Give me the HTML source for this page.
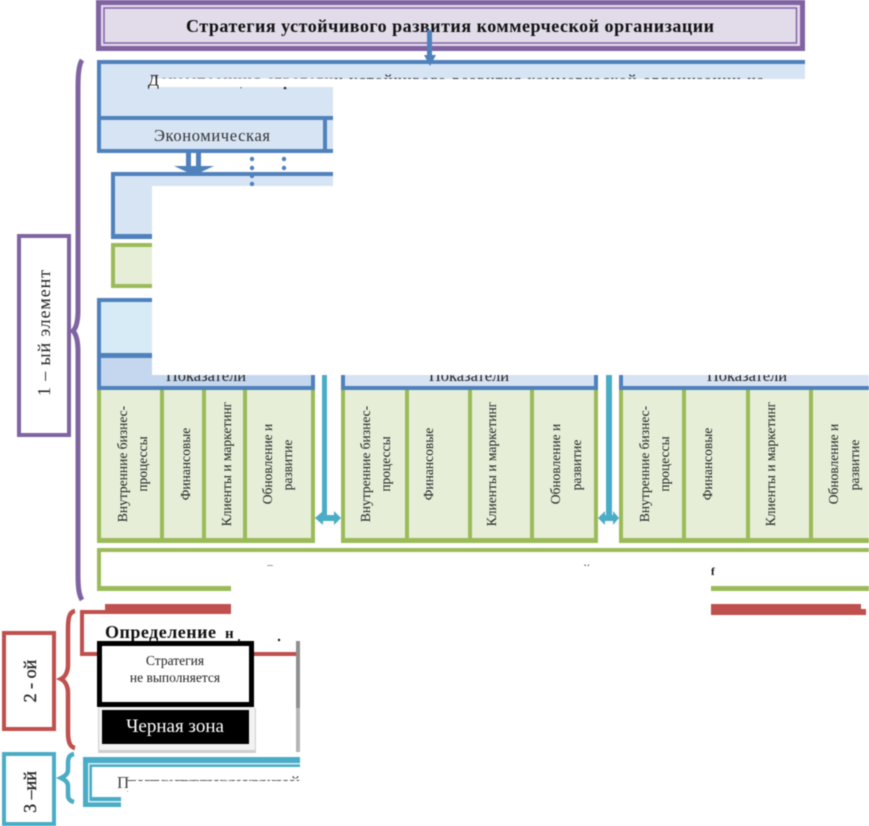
<!DOCTYPE html>
<html lang="ru"><head><meta charset="utf-8"><style>
html,body{margin:0;padding:0;background:#fff}
svg{display:block;font-family:"Liberation Serif",serif;filter:blur(.4px)}
</style></head><body>
<svg width="869" height="826" viewBox="0 0 869 826" xmlns="http://www.w3.org/2000/svg">
<rect width="869" height="826" fill="#fff"/>
<!-- top purple -->
<rect x="96" y="0" width="709" height="51" fill="#8064a2"/>
<rect x="101" y="5" width="699" height="41" fill="#e6d8ee"/>
<rect x="104" y="8" width="692.500" height="35" fill="#e2dcea" stroke="#8064a2" stroke-width="1.500"/>
<text x="186" y="32" font-size="18" font-weight="700" fill="#111" textLength="528">Стратегия устойчивого развития коммерческой организации</text>
<!-- first blue block -->
<rect x="97" y="60" width="708" height="93" fill="#d7e4f4"/>
<rect x="97" y="60" width="708" height="4" fill="#4f81bd"/>
<rect x="97" y="60" width="4" height="93" fill="#4f81bd"/>
<rect x="97" y="116" width="236" height="4" fill="#4f81bd"/>
<rect x="97" y="149" width="236" height="4" fill="#4f81bd"/>
<rect x="323" y="120" width="4" height="30" fill="#4f81bd"/>
<text x="148" y="85.500" font-size="16" fill="#222" textLength="616">Декомпозиция стратегии устойчивого развития коммерческой организации на</text>
<rect x="150" y="78.500" width="183" height="8.500" fill="#fff"/>
<rect x="333" y="79" width="536" height="110" fill="#fff"/>
<text x="148" y="85.500" font-size="16" fill="#222">Д</text>
<circle cx="285" cy="88" r="1.200" fill="#222"/>
<text x="154" y="141" font-size="16.500" fill="#333" textLength="116">Экономическая</text>
<!-- block arrow -->
<path d="M186 153h5v13h5v-13h5v13h13l-15 7h-10l-15-7h12z" fill="#4f81bd"/>
<g fill="#4f81bd"><circle cx="252" cy="159" r="2.200"/><circle cx="252" cy="168" r="2.200"/><circle cx="284" cy="159" r="2.200"/><circle cx="284" cy="168" r="2.200"/></g>
<!-- second blue block -->
<rect x="111" y="172" width="222" height="67" fill="#d7e4f4"/>
<rect x="111" y="172" width="222" height="4" fill="#4f81bd"/>
<rect x="111" y="172" width="4" height="67" fill="#4f81bd"/>
<rect x="111" y="234" width="41" height="5" fill="#4f81bd"/>
<circle cx="252" cy="176" r="2.200" fill="#4f81bd"/><circle cx="252" cy="184" r="2.200" fill="#4f81bd"/>
<!-- green small -->
<rect x="111" y="243" width="41" height="45" fill="#9bbb59"/>
<rect x="115" y="247" width="37" height="37" fill="#e6eed8"/>
<!-- big block -->
<rect x="97" y="298" width="55" height="92" fill="#d6ebf6"/>
<rect x="97" y="298" width="55" height="4" fill="#4f81bd"/>
<rect x="97" y="298" width="4" height="92" fill="#4f81bd"/>
<rect x="97" y="353" width="55" height="5" fill="#4f81bd"/>
<rect x="101" y="358" width="51" height="28" fill="#c5d7ee"/>
<!-- group headers -->
<rect x="101" y="375" width="210" height="11" fill="#c5d7ee"/>
<rect x="345" y="375" width="249" height="11" fill="#d7e2f2"/>
<rect x="623" y="375" width="246" height="11" fill="#d7e2f2"/>
<rect x="97" y="386" width="218" height="4" fill="#4f81bd"/>
<rect x="341" y="386" width="257" height="4" fill="#4f81bd"/>
<rect x="619" y="386" width="250" height="4" fill="#4f81bd"/>
<rect x="311" y="375" width="4" height="15" fill="#4f81bd"/>
<rect x="341" y="375" width="4" height="15" fill="#4f81bd"/>
<rect x="594" y="375" width="4" height="15" fill="#4f81bd"/>
<rect x="619" y="375" width="4" height="15" fill="#4f81bd"/>
<g font-size="16.500" fill="#222" text-anchor="middle"><text x="206" y="381">Показатели</text><text x="469" y="381">Показатели</text><text x="747" y="381">Показатели</text></g>
<!-- white mask -->
<rect x="152" y="186" width="717" height="189" fill="#fff"/>
<!-- green cells -->
<g fill="#e6eed8"><rect x="97" y="390" width="218" height="152"/><rect x="341" y="390" width="257" height="152"/><rect x="619" y="390" width="250" height="152"/></g>
<g fill="#9bbb59">
<rect x="97" y="390" width="4" height="152"/><rect x="160" y="390" width="4" height="152"/><rect x="202" y="390" width="4" height="152"/><rect x="243" y="390" width="4" height="152"/><rect x="311" y="390" width="4" height="152"/><rect x="97" y="538" width="218" height="5"/>
<rect x="341" y="390" width="4" height="152"/><rect x="405" y="390" width="4" height="152"/><rect x="468" y="390" width="4" height="152"/><rect x="530" y="390" width="4" height="152"/><rect x="594" y="390" width="4" height="152"/><rect x="341" y="538" width="257" height="5"/>
<rect x="619" y="390" width="4" height="152"/><rect x="682" y="390" width="4" height="152"/><rect x="746" y="390" width="4" height="152"/><rect x="809" y="390" width="4" height="152"/><rect x="619" y="538" width="250" height="5"/>
</g>
<g font-size="13.500" fill="#222" text-anchor="middle">
<text transform="translate(127,464) rotate(-90)">Внутренние бизнес-</text><text transform="translate(147,464) rotate(-90)">процессы</text>
<text transform="translate(190,464) rotate(-90)">Финансовые</text><text transform="translate(231,464) rotate(-90)">Клиенты и маркетинг</text>
<text transform="translate(272,464) rotate(-90)">Обновление и</text><text transform="translate(292,465) rotate(-90)">развитие</text>
<text transform="translate(370,464) rotate(-90)">Внутренние бизнес-</text><text transform="translate(390,464) rotate(-90)">процессы</text>
<text transform="translate(433,464) rotate(-90)">Финансовые</text><text transform="translate(496,464) rotate(-90)">Клиенты и маркетинг</text>
<text transform="translate(560,464) rotate(-90)">Обновление и</text><text transform="translate(581,465) rotate(-90)">развитие</text>
<text transform="translate(649,464) rotate(-90)">Внутренние бизнес-</text><text transform="translate(669,464) rotate(-90)">процессы</text>
<text transform="translate(712,464) rotate(-90)">Финансовые</text><text transform="translate(775,464) rotate(-90)">Клиенты и маркетинг</text>
<text transform="translate(838,464) rotate(-90)">Обновление и</text><text transform="translate(859,465) rotate(-90)">развитие</text>
</g>
<!-- cyan connectors -->
<g fill="#4bacc6">
<rect x="322" y="375" width="5" height="141"/><path d="M315 518l8-7v4h11v-4l7 7-7 7v-4h-11v4z"/>
<rect x="606" y="375" width="6" height="141"/><path d="M598 518l7-7v4h8v-4l6 7-6 7v-4h-8v4z"/>
</g>
<!-- top connector arrow -->
<path d="M427 30h5v25h4l-6 11-6-11h3z" fill="#4f81bd"/>
<!-- bottom green frame -->
<rect x="97" y="548" width="772" height="4" fill="#9bbb59"/>
<rect x="97" y="548" width="4" height="43" fill="#9bbb59"/>
<rect x="97" y="586" width="134" height="5" fill="#9bbb59"/>
<rect x="711" y="586" width="158" height="5" fill="#9bbb59"/>
<text x="265" y="574" font-size="14" fill="#555" textLength="435">Оценка результатов реализации стратегии устойчивого развития</text>
<rect x="231" y="566" width="480" height="25" fill="#fff"/>
<rect x="262" y="566" width="20" height="10" fill="#fff"/>
<text x="711" y="575" font-size="11" font-weight="700" fill="#111">f</text>
<!-- red -->
<rect x="105" y="604" width="126" height="10" fill="#c0504d"/>
<rect x="711" y="604" width="150" height="10" fill="#c0504d"/>
<rect x="711" y="609" width="155" height="6" fill="#c0504d"/>
<rect x="80" y="610" width="60" height="4" fill="#c0504d"/>
<rect x="80" y="610" width="4" height="46" fill="#c0504d"/>
<rect x="80" y="652" width="20" height="4" fill="#c0504d"/>
<rect x="250" y="652" width="46" height="4" fill="#c0504d"/>
<text x="105" y="638" font-size="18" font-weight="700" fill="#111" textLength="111">Определение</text>
<text x="225" y="638" font-size="15" font-weight="700" fill="#111">н</text>
<circle cx="279" cy="640" r="1.200" fill="#111"/><circle cx="239" cy="640" r="1" fill="#111"/>
<rect x="296" y="641" width="4" height="67" fill="#8f8f8f"/><rect x="296" y="708" width="4" height="44" fill="#b5b5b5"/>
<!-- black boxes -->
<rect x="98" y="708" width="158" height="45" fill="#cfcfcf"/>
<rect x="99" y="706" width="156" height="44" fill="#f2f2f2"/>
<rect x="99.500" y="643.500" width="152" height="61" fill="#fff" stroke="#000" stroke-width="5"/>
<rect x="102" y="710" width="147" height="34" fill="#000"/>
<g text-anchor="middle" font-size="13.500" fill="#222"><text x="175" y="665">Стратегия</text><text x="175" y="682">не выполняется</text></g>
<text x="175" y="732" text-anchor="middle" font-size="19" fill="#fff">Черная зона</text>
<!-- cyan frame -->
<rect x="83" y="757" width="217" height="10" fill="#4bacc6"/>
<rect x="83" y="757" width="9" height="50" fill="#4bacc6"/>
<rect x="83" y="797" width="38" height="10" fill="#4bacc6"/>
<rect x="88" y="763" width="212" height="1.500" fill="#d8eef4"/>
<rect x="88" y="763" width="1.500" height="39" fill="#d8eef4"/>
<rect x="88" y="801" width="33" height="1.500" fill="#d8eef4"/>
<rect x="92" y="767" width="208" height="30" fill="#fff"/>
<text x="117" y="788" font-size="17" fill="#444" textLength="183">Принятие управленческих решений</text>
<rect x="128" y="781" width="180" height="14" fill="#fff"/>
<rect x="300" y="745" width="30" height="70" fill="#fff"/>
<!-- left boxes -->
<rect x="19" y="236" width="50" height="199" fill="#fff" stroke="#8064a2" stroke-width="4"/>
<text transform="translate(50,333) rotate(-90)" text-anchor="middle" font-size="18" fill="#222" textLength="126">1 – ый элемент</text>
<rect x="4" y="633" width="50" height="96" fill="#fff" stroke="#c0504d" stroke-width="4"/>
<text transform="translate(36,681) rotate(-90)" text-anchor="middle" font-size="18" fill="#222" stroke="#222" stroke-width=".3">2 - ой</text>
<rect x="4" y="754" width="50" height="70" fill="#fff" stroke="#4bacc6" stroke-width="4"/>
<text transform="translate(36,792) rotate(-90)" text-anchor="middle" font-size="18" fill="#222" stroke="#222" stroke-width=".3">3 –ий</text>
<!-- braces -->
<path d="M82 60C78 66 78 80 78 90V310C78 322 76 328 73 331C76 334 78 340 78 352V575C78 588 79 595 82 600" fill="none" stroke="#8064a2" stroke-width="5"/>
<path d="M75 611C69 612 68 618 68 630V665C68 672 65 677 61 679C65 681 68 686 68 693V732C68 742 70 747 75 748" fill="none" stroke="#c0504d" stroke-width="4.500"/>
<path d="M74 754C69 755 68 758 68 764V770C68 774 65 776 61 778C65 780 68 782 68 786V795C68 799 70 801 74 802" fill="none" stroke="#4bacc6" stroke-width="4.500"/>
</svg>
</body></html>
